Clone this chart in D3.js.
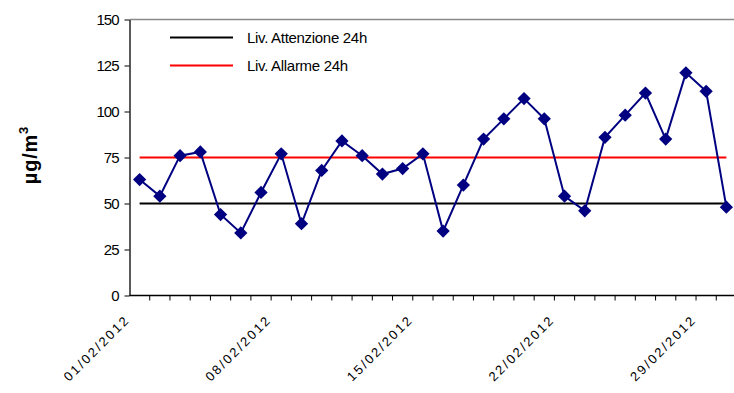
<!DOCTYPE html>
<html>
<head>
<meta charset="utf-8">
<script src="https://cdn.jsdelivr.net/npm/d3@7/dist/d3.min.js"></script>
<style>
  html, body { margin: 0; padding: 0; background: #fff; }
  svg { display: block; font-family: Arial, "Liberation Sans", sans-serif; }
</style>
</head>
<body>
<svg id="chart" width="734" height="393"></svg>
<script>
// Daily concentrations (µg/m³), February 2012 + 1 March
const dates = [
  "01/02/2012","02/02/2012","03/02/2012","04/02/2012","05/02/2012","06/02/2012",
  "07/02/2012","08/02/2012","09/02/2012","10/02/2012","11/02/2012","12/02/2012",
  "13/02/2012","14/02/2012","15/02/2012","16/02/2012","17/02/2012","18/02/2012",
  "19/02/2012","20/02/2012","21/02/2012","22/02/2012","23/02/2012","24/02/2012",
  "25/02/2012","26/02/2012","27/02/2012","28/02/2012","29/02/2012","01/03/2012"
];
const values = [
  63, 54, 76, 78, 44, 34, 56, 77, 39, 68,
  84, 76, 66, 69, 77, 35, 60, 85, 96, 107,
  96, 54, 46, 86, 98, 110, 85, 121, 111, 48
];
const attenzione = 50;   // Liv. Attenzione 24h
const allarme = 75;      // Liv. Allarme 24h
const yTicks = [0, 25, 50, 75, 100, 125, 150];
const labelEvery = 7;
const legendItems = [
  { name: "Liv. Attenzione 24h", level: attenzione, color: "#000000" },
  { name: "Liv. Allarme 24h", level: allarme, color: "#ff0000" }
];

const svg = d3.select("#chart");
const plot = { left: 129.5, right: 736.5, top: 19.5, bottom: 295.5 };

const x = d3.scaleBand().domain(dates).range([plot.left, plot.right]).paddingInner(0).paddingOuter(0);
const y = d3.scaleLinear().domain([0, 150]).range([plot.bottom, plot.top]);
const cx = d => x(d) + x.bandwidth() / 2;

// top border of the plot area
svg.append("line")
  .attr("x1", plot.left).attr("x2", plot.right)
  .attr("y1", plot.top).attr("y2", plot.top)
  .attr("stroke", "#8a8a8a").attr("stroke-width", 1.6);

// y axis
const yAxis = svg.append("g")
  .attr("transform", `translate(${plot.left},0)`)
  .call(d3.axisLeft(y).tickValues(yTicks).tickSize(5).tickPadding(6).tickSizeOuter(0));
yAxis.select(".domain").attr("stroke", "#000").attr("stroke-width", 1.3);
yAxis.selectAll(".tick line").attr("stroke", "#000");
yAxis.selectAll("text")
  .attr("font-size", 15).attr("letter-spacing", -1).attr("fill", "#000")
  .attr("font-family", "Arial, 'Liberation Sans', sans-serif");

// x axis with ticks at category boundaries
const xAxis = svg.append("g").attr("transform", `translate(0,${plot.bottom})`);
xAxis.append("line")
  .attr("x1", plot.left).attr("x2", plot.right)
  .attr("stroke", "#000").attr("stroke-width", 1.3);
xAxis.selectAll("line.tick")
  .data(dates)
  .join("line")
  .attr("class", "tick")
  .attr("x1", d => x(d) + x.bandwidth())
  .attr("x2", d => x(d) + x.bandwidth())
  .attr("y1", 0).attr("y2", 5)
  .attr("stroke", "#000");
xAxis.selectAll("text")
  .data(dates.filter((d, i) => i % labelEvery === 0))
  .join("text")
  .attr("transform", d => `translate(${cx(d) - 9},25) rotate(-45)`)
  .attr("text-anchor", "end")
  .attr("font-size", 13)
  .attr("letter-spacing", 2.2)
  .attr("fill", "#000")
  .text(d => d);

// y axis title
svg.append("text")
  .attr("transform", "translate(37,155) rotate(-90)")
  .attr("text-anchor", "middle")
  .attr("font-size", 20)
  .attr("font-weight", "bold")
  .attr("letter-spacing", 0.8)
  .call(t => {
    t.append("tspan").text("µg/m");
    t.append("tspan").attr("font-size", 13).attr("dy", -9).text("3");
  });

// threshold lines
legendItems.forEach(item => {
  svg.append("line")
    .attr("x1", cx(dates[0])).attr("x2", cx(dates[dates.length - 1]))
    .attr("y1", y(item.level)).attr("y2", y(item.level))
    .attr("stroke", item.color).attr("stroke-width", 2);
});

// series
const line = d3.line().x((d, i) => cx(dates[i])).y(d => y(d));
svg.append("path")
  .datum(values)
  .attr("d", line)
  .attr("fill", "none")
  .attr("stroke", "#000080")
  .attr("stroke-width", 2);

const diamond = d3.symbol().type(d3.symbolSquare).size(88);
svg.selectAll("path.pt")
  .data(values)
  .join("path")
  .attr("class", "pt")
  .attr("d", diamond)
  .attr("transform", (d, i) => `translate(${cx(dates[i])},${y(d)}) rotate(45)`)
  .attr("fill", "#000080");

// legend
const legend = svg.append("g");
legendItems.forEach((item, i) => {
  const ly = 37.5 + i * 28;
  legend.append("line")
    .attr("x1", 170).attr("x2", 233)
    .attr("y1", ly).attr("y2", ly)
    .attr("stroke", item.color).attr("stroke-width", 2);
  legend.append("text")
    .attr("x", 247).attr("y", ly + 5)
    .attr("font-size", 15)
    .attr("letter-spacing", -0.3)
    .attr("fill", "#000")
    .text(item.name);
});
</script>
</body>
</html>
